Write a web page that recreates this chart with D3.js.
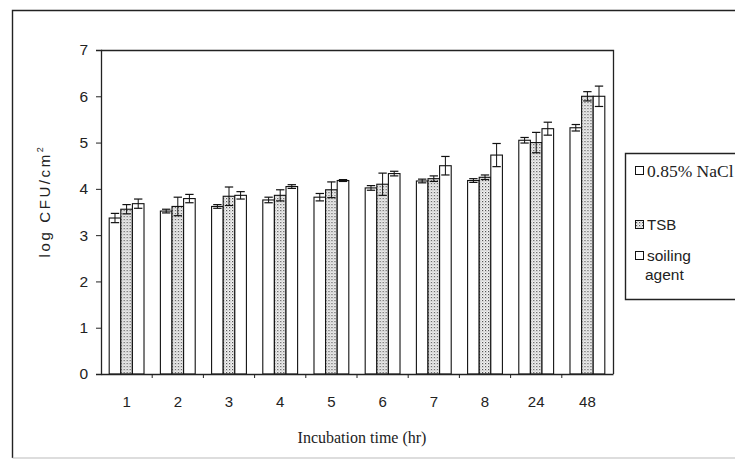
<!DOCTYPE html>
<html>
<head>
<meta charset="utf-8">
<script src="https://cdn.jsdelivr.net/npm/d3@7"></script>
<style>
  html, body { margin: 0; padding: 0; background: #fff; }
  svg { display: block; }
</style>
</head>
<body>
<svg id="chart" width="735" height="467"></svg>
<script>
// Incubation times (hr)
const categories = ["1", "2", "3", "4", "5", "6", "7", "8", "24", "48"];
const seriesNames = ["0.85% NaCl", "TSB", "soiling agent"];

// Mean log CFU/cm² per incubation time
const naclValues    = [3.37, 3.52, 3.62, 3.76, 3.82, 4.02, 4.17, 4.18, 5.05, 5.32];
const tsbValues     = [3.56, 3.62, 3.84, 3.86, 3.98, 4.10, 4.22, 4.25, 5.00, 6.00];
const soilingValues = [3.68, 3.79, 3.86, 4.05, 4.18, 4.33, 4.50, 4.73, 5.30, 6.00];

// Standard deviations
const naclErr    = [0.10, 0.04, 0.04, 0.06, 0.08, 0.05, 0.04, 0.04, 0.06, 0.07];
const tsbErr     = [0.10, 0.20, 0.20, 0.12, 0.17, 0.24, 0.06, 0.05, 0.22, 0.10];
const soilingErr = [0.10, 0.09, 0.08, 0.04, 0.02, 0.05, 0.20, 0.25, 0.14, 0.22];

const yTicks = [0, 1, 2, 3, 4, 5, 6, 7];

const seriesValues = [naclValues, tsbValues, soilingValues];
const seriesErrors = [naclErr, tsbErr, soilingErr];

const sans = "'Liberation Sans', Arial, sans-serif";
const serif = "'Liberation Serif', 'Times New Roman', serif";

const svg = d3.select("#chart");

// dotted fill for the TSB bars
const defs = svg.append("defs");
const pat = defs.append("pattern")
  .attr("id", "dots")
  .attr("patternUnits", "userSpaceOnUse")
  .attr("width", 3).attr("height", 3);
pat.append("rect").attr("width", 3).attr("height", 3).attr("fill", "#f2f2f2");
pat.append("rect").attr("x", 0).attr("y", 0).attr("width", 1.2).attr("height", 1.2).attr("fill", "#555");
pat.append("rect").attr("x", 1.5).attr("y", 1.5).attr("width", 1).attr("height", 1).attr("fill", "#9a9a9a");

const fills = ["#ffffff", "url(#dots)", "#ffffff"];

// outer frame
svg.append("path")
  .attr("d", "M760,10.5 H12.5 V458")
  .attr("fill", "none").attr("stroke", "#222").attr("stroke-width", 1.4);
svg.append("line")
  .attr("x1", 12.5).attr("x2", 735).attr("y1", 458).attr("y2", 458)
  .attr("stroke", "#bbb").attr("stroke-width", 1);

const plot = { left: 101, right: 613, top: 50, bottom: 374 };

const x0 = d3.scaleBand().domain(categories).range([plot.left, plot.right]).padding(0);
const groupW = x0.bandwidth() * 0.68;
const x1 = d3.scaleBand().domain(seriesNames).range([-groupW / 2, groupW / 2]).padding(0);
const y = d3.scaleLinear().domain([0, 7]).range([plot.bottom, plot.top]);

// plot frame (top and right edges)
svg.append("path")
  .attr("d", `M${plot.left},${plot.top + 0.5} H${plot.right + 0.5} V${plot.bottom}`)
  .attr("fill", "none").attr("stroke", "#222").attr("stroke-width", 1.3);

// bars
const groups = svg.append("g").selectAll("g")
  .data(categories)
  .join("g")
  .attr("transform", d => `translate(${x0(d) + x0.bandwidth() / 2},0)`);

seriesNames.forEach((s, si) => {
  groups.append("rect")
    .attr("x", x1(s))
    .attr("y", (d, i) => y(seriesValues[si][i]))
    .attr("width", x1.bandwidth())
    .attr("height", (d, i) => y(0) - y(seriesValues[si][i]))
    .attr("fill", fills[si])
    .attr("stroke", "#111")
    .attr("stroke-width", 1.1);
});

// error bars
seriesNames.forEach((s, si) => {
  const cx = x1(s) + x1.bandwidth() / 2;
  const capW = x1.bandwidth() * 0.72;
  groups.each(function (d, i) {
    const g = d3.select(this);
    const v = seriesValues[si][i], e = seriesErrors[si][i];
    const yHi = y(v + e), yLo = y(v - e);
    g.append("line").attr("x1", cx).attr("x2", cx).attr("y1", yHi).attr("y2", yLo)
      .attr("stroke", "#111").attr("stroke-width", 1);
    [yHi, yLo].forEach(yy => {
      g.append("line").attr("x1", cx - capW / 2).attr("x2", cx + capW / 2)
        .attr("y1", yy).attr("y2", yy)
        .attr("stroke", "#111").attr("stroke-width", 1.2);
    });
  });
});

// y axis
const yAxis = d3.axisLeft(y).tickValues(yTicks).tickFormat(d3.format("d")).tickSize(5).tickPadding(8);
const yg = svg.append("g").attr("transform", `translate(${plot.left},0)`).call(yAxis);
yg.select(".domain").attr("stroke", "#222").attr("stroke-width", 1.3);
yg.selectAll(".tick line").attr("stroke", "#222");
yg.selectAll("text")
  .attr("font-family", sans)
  .attr("font-size", 15.5).attr("fill", "#222");

// x axis: ticks at category boundaries
const xAxis = d3.axisBottom(x0).tickSize(0).tickPadding(22);
const xg = svg.append("g").attr("transform", `translate(0,${plot.bottom})`).call(xAxis);
xg.select(".domain").attr("stroke", "#222").attr("stroke-width", 1.3);
xg.selectAll("text")
  .attr("font-family", sans)
  .attr("font-size", 15).attr("fill", "#222");
xg.selectAll(".boundary")
  .data(categories.slice(1))
  .join("line")
  .attr("x1", d => x0(d)).attr("x2", d => x0(d))
  .attr("y1", 0).attr("y2", 4)
  .attr("stroke", "#222");

// axis titles
const yTitle = svg.append("text")
  .attr("transform", `translate(50,201) rotate(-90)`)
  .attr("text-anchor", "middle")
  .attr("font-family", sans)
  .attr("font-size", 15)
  .attr("letter-spacing", 2.6)
  .attr("fill", "#222");
yTitle.append("tspan").text("log CFU/cm");
yTitle.append("tspan").attr("dy", -7).attr("font-size", 9).text("2");

svg.append("text")
  .attr("x", (plot.left + plot.right) / 2 + 5)
  .attr("y", 443)
  .attr("text-anchor", "middle")
  .attr("font-family", serif)
  .attr("font-size", 16)
  .attr("fill", "#222")
  .text("Incubation time (hr)");

// legend
const legend = svg.append("g");
legend.append("path")
  .attr("d", "M760,153.5 H625.5 V299.5 H760")
  .attr("fill", "none").attr("stroke", "#222").attr("stroke-width", 1.4);

const legendRows = [
  { y: 171, lines: ["0.85% NaCl"], font: serif, size: 17.5, si: 0 },
  { y: 225, lines: ["TSB"], font: sans, size: 15, si: 1 },
  { y: 256, lines: ["soiling", "agent"], font: sans, size: 15.5, si: 2 }
];
legendRows.forEach(r => {
  legend.append("rect")
    .attr("x", 635.5).attr("y", r.y - 4.5)
    .attr("width", 8).attr("height", 8)
    .attr("fill", fills[r.si]).attr("stroke", "#111").attr("stroke-width", 1);
  r.lines.forEach((t, k) => {
    legend.append("text")
      .attr("x", k === 0 ? 647 : 645)
      .attr("y", r.y + k * 19)
      .attr("dy", "0.35em")
      .attr("font-family", r.font)
      .attr("font-size", r.size)
      .attr("fill", "#222")
      .text(t);
  });
});
</script>
</body>
</html>
